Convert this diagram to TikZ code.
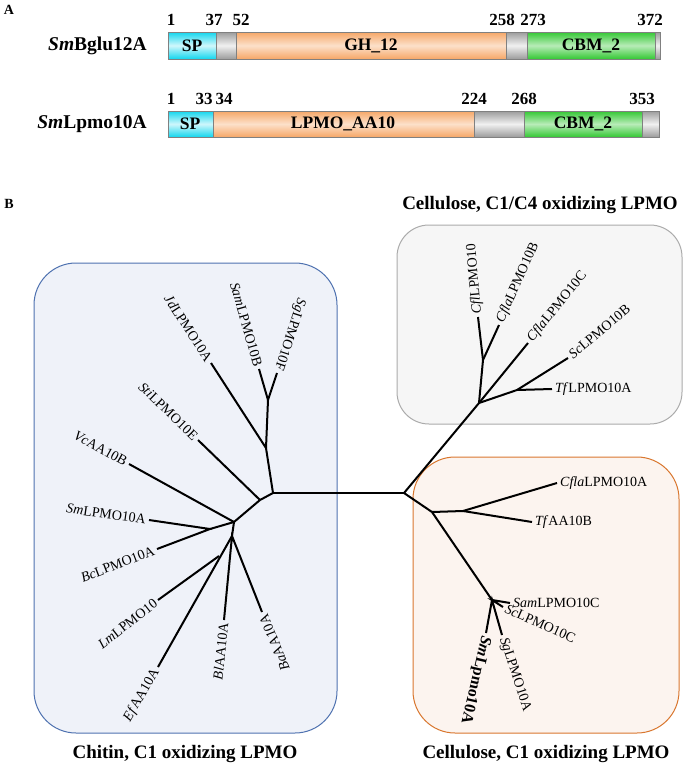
\documentclass[tikz,border=0pt]{standalone}
\usepackage{fontspec}
\setmainfont{Liberation Serif}
\usetikzlibrary{positioning,calc}

\definecolor{spcyan}{HTML}{12D6EE}
\definecolor{ghorange}{HTML}{F6A767}
\definecolor{cbmgreen}{HTML}{34C834}
\definecolor{linkgray}{HTML}{9C9C9C}
\definecolor{chitinblue}{HTML}{4F72B0}
\definecolor{chitinfill}{HTML}{EFF2F9}
\definecolor{cellgray}{HTML}{ABABAB}
\definecolor{cellfill}{HTML}{F6F6F6}
\definecolor{cellorange}{HTML}{D9772F}
\definecolor{cellofill}{HTML}{FCF4EF}

\tikzset{
  spdom/.style={draw=gray, line width=0.5pt, top color=spcyan, bottom color=spcyan, middle color=spcyan!20!white},
  ghdom/.style={draw=gray, line width=0.5pt, top color=ghorange, bottom color=ghorange, middle color=ghorange!35!white},
  cbmdom/.style={draw=gray, line width=0.5pt, top color=cbmgreen, bottom color=cbmgreen, middle color=cbmgreen!35!white},
  linkdom/.style={draw=gray, line width=0.5pt, top color=linkgray, bottom color=linkgray, middle color=linkgray!15!white},
  domlab/.style={font=\bfseries\fontsize{17.5}{20}\selectfont, inner sep=0pt},
  poslab/.style={font=\bfseries\fontsize{17}{20}\selectfont, inner sep=0pt},
  protlab/.style={font=\bfseries\fontsize{19.5}{22}\selectfont, inner sep=0pt, anchor=east},
  grouplab/.style={font=\bfseries\fontsize{19}{22}\selectfont},
  panellab/.style={font=\bfseries\fontsize{14}{16}\selectfont},
  branch/.style={line width=2pt},
  leaf/.style={font=\fontsize{14}{16}\selectfont, inner sep=3pt},
  leafL/.style={leaf, anchor=east},
  leafR/.style={leaf, anchor=west},
}

\begin{document}
\begin{tikzpicture}[x=1pt, y=-1pt]
    \useasboundingbox (0,0) rectangle (685,766);

    % A: 结构域
    \node[panellab] (pa) at (9,10) {A};

    % 第一行 SmBglu12A
    \def\ta{32}
    \def\ba{59}
    \shadedraw[spdom] (168,\ta) rectangle (216,\ba);
    \shadedraw[linkdom] (216,\ta) rectangle (236,\ba);
    \shadedraw[ghdom] (236,\ta) rectangle (506,\ba);
    \shadedraw[linkdom] (506,\ta) rectangle (527,\ba);
    \shadedraw[cbmdom] (527,\ta) rectangle (655,\ba);
    \shadedraw[linkdom] (655,\ta) rectangle (660,\ba);
    \node[protlab] (bglu) at (147,45.5) {\textit{Sm}Bglu12A};
    \node[domlab] (sp1) at (192,45.5) {SP};
    \node[domlab] (gh1) at (371,45.5) {GH\_12};
    \node[domlab] (cbm1) at (591,45.5) {CBM\_2};
    \node[poslab] (a1) at (171,20) {1};
    \node[poslab] (a37) at (214,20) {37};
    \node[poslab] (a52) at (241,20) {52};
    \node[poslab] (a258) at (502,20) {258};
    \node[poslab] (a273) at (533,20) {273};
    \node[poslab] (a372) at (650,20) {372};

    % 第二行 SmLpmo10A
    \def\tb{111}
    \def\bb{137}
    \shadedraw[spdom] (168,\tb) rectangle (213,\bb);
    \shadedraw[ghdom] (213,\tb) rectangle (474,\bb);
    \shadedraw[linkdom] (474,\tb) rectangle (524,\bb);
    \shadedraw[cbmdom] (524,\tb) rectangle (642,\bb);
    \shadedraw[linkdom] (642,\tb) rectangle (659,\bb);
    \node[protlab] (lpmo) at (147,124) {\textit{Sm}Lpmo10A};
    \node[domlab] (sp2) at (190,124) {SP};
    \node[domlab] (aa2) at (343,124) {LPMO\_AA10};
    \node[domlab] (cbm2) at (583,124) {CBM\_2};
    \node[poslab] (b1) at (171,99) {1};
    \node[poslab] (b33) at (204,99) {33};
    \node[poslab] (b34) at (224,99) {34};
    \node[poslab] (b224) at (474,99) {224};
    \node[poslab] (b268) at (524,99) {268};
    \node[poslab] (b353) at (642,99) {353};

    % B: 进化树
    \node[panellab] (pb) at (9,204) {B};

    % 三个分组框
    \draw[chitinblue, fill=chitinfill, line width=1pt, rounded corners=42pt] (34,263) rectangle (337,733);
    \draw[cellgray, fill=cellfill, line width=1pt, rounded corners=32pt] (397,225) rectangle (682,424);
    \draw[cellorange, fill=cellofill, line width=1pt, rounded corners=42pt] (413,457) rectangle (679,733);

    \node[grouplab] (c14) at (540,205) {Cellulose, C1/C4 oxidizing LPMO};
    \node[grouplab] (chitin) at (185,754) {Chitin, C1 oxidizing LPMO};
    \node[grouplab] (c1) at (546,754) {Cellulose, C1 oxidizing LPMO};

    % 内部节点
    \coordinate (L0) at (273,493);
    \coordinate (R0) at (404,493);
    \coordinate (nA) at (266,448);
    \coordinate (nB) at (268,400);
    \coordinate (nC) at (260,500);
    \coordinate (nD) at (234,522);
    \coordinate (nF) at (210,529);
    \coordinate (nG) at (232,536);
    \coordinate (nH) at (219,556);
    \coordinate (nP) at (479,403);
    \coordinate (nQ) at (483,360);
    \coordinate (nS) at (517,390);
    \coordinate (nT) at (432,512);
    \coordinate (nU) at (463,511);
    \coordinate (nV) at (492,600);

    % 叶节点
    \coordinate (jd) at (211,363);
    \coordinate (samb) at (259,369);
    \coordinate (sgf) at (277,373);
    \coordinate (sti) at (198,440);
    \coordinate (vc) at (129,464);
    \coordinate (sma) at (149,520);
    \coordinate (bc) at (157,549);
    \coordinate (lm) at (158,600);
    \coordinate (ef) at (158,667);
    \coordinate (bl) at (224,620);
    \coordinate (ba) at (262,612);
    \coordinate (cfl) at (478,317);
    \coordinate (cflb) at (499,325);
    \coordinate (cflc) at (528,343);
    \coordinate (scb) at (568,358);
    \coordinate (tfa) at (552,389);
    \coordinate (cfla) at (557,483);
    \coordinate (tfb) at (532,522);
    \coordinate (samc) at (510,603);
    \coordinate (scc) at (503,607);
    \coordinate (smL) at (486,633);
    \coordinate (sga) at (502,635);

    % 分支
    \draw[branch] (L0) -- (R0);
    \draw[branch] (jd) -- (nA) -- (L0) -- (nC) -- (nD) -- (nG) -- (ef);
    \draw[branch] (samb) -- (nB) -- (sgf);
    \draw[branch] (nB) -- (nA);
    \draw[branch] (sti) -- (nC);
    \draw[branch] (vc) -- (nD);
    \draw[branch] (sma) -- (nF) -- (bc);
    \draw[branch] (nF) -- (nD);
    \draw[branch] (lm) -- (nH);
    \draw[branch] (bl) -- (nG) -- (ba);
    \draw[branch] (nV) -- (nT) -- (R0) -- (nP) -- (nQ) -- (cfl);
    \draw[branch] (nQ) -- (cflb);
    \draw[branch] (nP) -- (cflc);
    \draw[branch] (nP) -- (nS) -- (scb);
    \draw[branch] (nS) -- (tfa);
    \draw[branch] (nT) -- (nU) -- (cfla);
    \draw[branch] (nU) -- (tfb);
    \draw[branch] (samc) -- (nV) -- (scc);
    \draw[branch] (smL) -- (nV) -- (sga);

    % 左侧标签
    \node[leafL, rotate=-57] (jdlab) at (jd) {\textit{Jd}LPMO10A};
    \node[leafL, rotate=-74] (samblab) at (samb) {\textit{Sam}LPMO10B};
    \node[leafL, rotate=-108] (sgflab) at (sgf) {\textit{Sg}LPMO10F};
    \node[leafL, rotate=-44] (stilab) at (sti) {\textit{Sti}LPMO10E};
    \node[leafL, rotate=-29] (vclab) at (vc) {\textit{Vc}AA10B};
    \node[leafL, rotate=-8] (smalab) at (sma) {\textit{Sm}LPMO10A};
    \node[leafL, rotate=21] (bclab) at (bc) {\textit{Bc}LPMO10A};
    \node[leafL, rotate=38] (lmlab) at (lm) {\textit{Lm}LPMO10};
    \node[leafL, rotate=60] (eflab) at (ef) {\textit{Ef}AA10A};
    \node[leafL, rotate=84] (bllab) at (bl) {\textit{Bl}AA10A};
    \node[leafL, rotate=112] (balab) at (ba) {\textit{Ba}AA10A};

    % 右侧标签
    \node[leafR, rotate=95] (cfllab) at (cfl) {\textit{Cfl}LPMO10};
    \node[leafR, rotate=66] (cflblab) at (cflb) {\textit{Cfla}LPMO10B};
    \node[leafR, rotate=51] (cflclab) at (cflc) {\textit{Cfla}LPMO10C};
    \node[leafR, rotate=40] (scblab) at (scb) {\textit{Sc}LPMO10B};
    \node[leafR] (tfalab) at (tfa) {\textit{Tf}LPMO10A};
    \node[leafR] (cflalab) at (cfla) {\textit{Cfla}LPMO10A};
    \node[leafR] (tfblab) at (tfb) {\textit{Tf}AA10B};
    \node[leafR] (samclab) at (samc) {\textit{Sam}LPMO10C};
    \node[leafR, rotate=-24] (scclab) at (scc) {\textit{Sc}LPMO10C};
    \node[leafR, rotate=-72] (sgalab) at (sga) {\textit{Sg}LPMO10A};
    \node[leafR, rotate=-103, font=\bfseries\fontsize{16}{18}\selectfont] (smLlab) at (smL) {\textit{Sm}Lpmo10A};

\end{tikzpicture}
\end{document}
